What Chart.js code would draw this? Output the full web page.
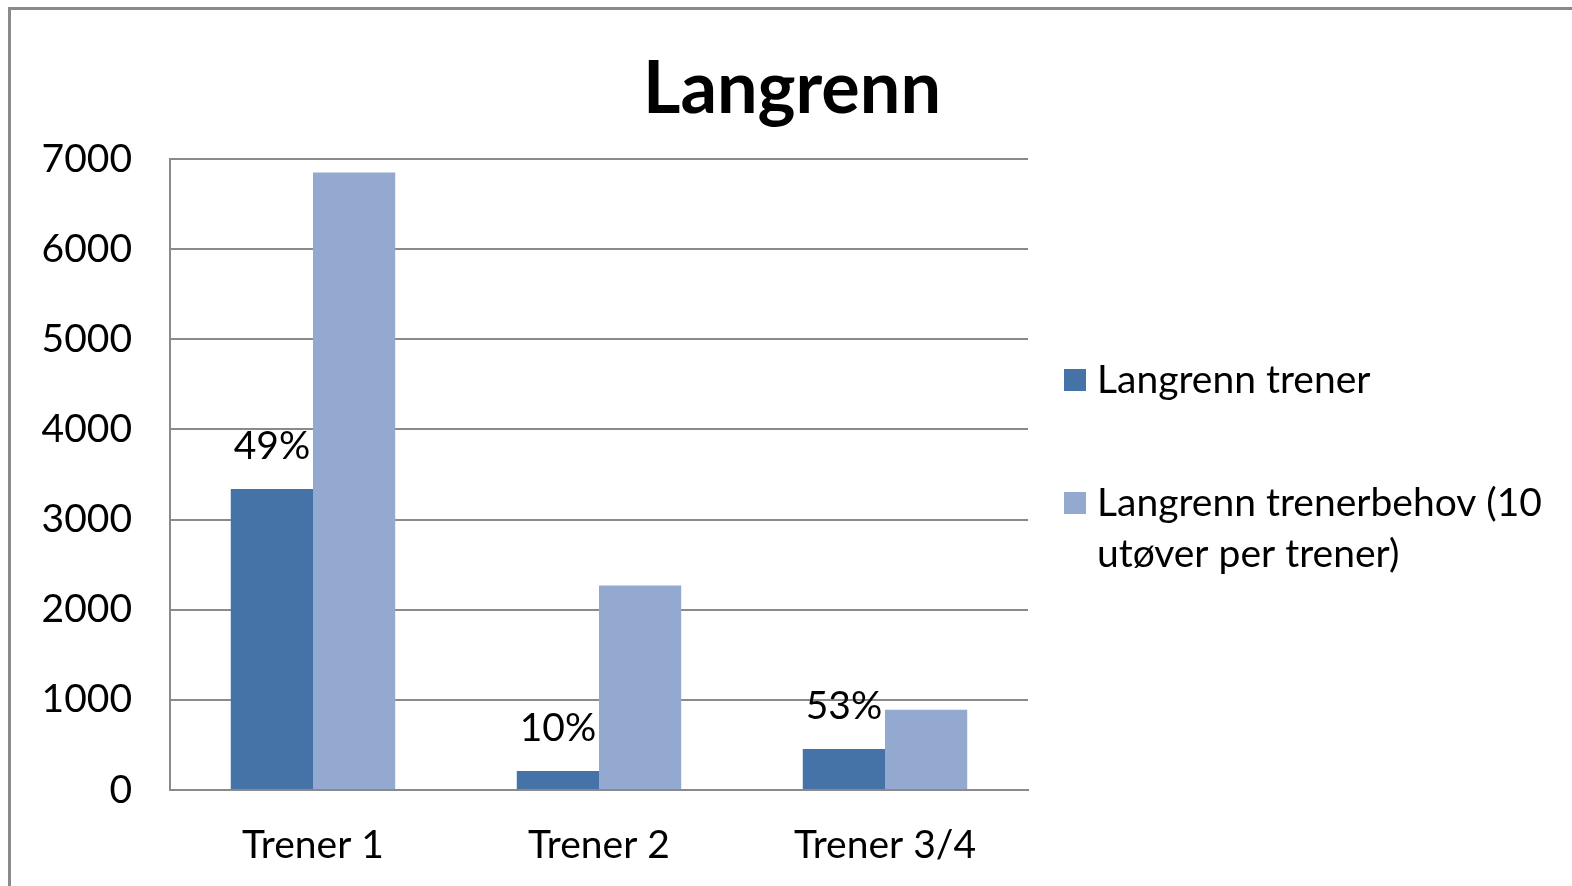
<!DOCTYPE html>
<html>
<head>
<meta charset="utf-8">
<script src="https://cdn.jsdelivr.net/npm/chart.js@4.4.1/dist/chart.umd.min.js"></script>
<style>
  html, body { margin: 0; padding: 0; background: #fff; }
  #wrap { position: relative; width: 1572px; height: 886px; }
  #frame { position: absolute; left: 8px; top: 7px; right: -10px; bottom: -10px;
           border-top: 3px solid #8a8a8a; border-left: 3px solid #8a8a8a; pointer-events: none; }
</style>
</head>
<body>
<div id="wrap">
  <canvas id="chart" width="1572" height="886"></canvas>
  <div id="frame"></div>
</div>
<script>
// data
const categories = ["Trener 1", "Trener 2", "Trener 3/4"];
const trenerValues = [3340, 210, 455];
const behovValues = [6850, 2270, 890];
const percentLabels = ["49%", "10%", "53%"];
const seriesNames = ["Langrenn trener", "Langrenn trenerbehov (10 utøver per trener)"];
const titleText = "Langrenn";

const FONT = "Lato, 'Open Sans', sans-serif";
const textSize = 39;

// title centred on the whole picture, not on the plot
const titlePlugin = {
  id: "bigTitle",
  afterDraw(chart) {
    const ctx = chart.ctx;
    ctx.save();
    ctx.font = `bold 72px ${FONT}`;
    ctx.fillStyle = "#000";
    ctx.textAlign = "center";
    ctx.textBaseline = "middle";
    ctx.fillText(titleText, 792, 90);
    ctx.restore();
  }
};

// percent text above the dark bars
const percentPlugin = {
  id: "percentLabels",
  afterDatasetsDraw(chart) {
    const ctx = chart.ctx;
    const meta = chart.getDatasetMeta(0);
    ctx.save();
    ctx.font = `${textSize}px ${FONT}`;
    ctx.fillStyle = "#000";
    ctx.textAlign = "center";
    ctx.textBaseline = "alphabetic";
    meta.data.forEach((bar, i) => {
      ctx.fillText(percentLabels[i], bar.x, bar.y - 30);
    });
    ctx.restore();
  }
};

// legend on the right, with wrapping text
const sideLegend = {
  id: "sideLegend",
  afterDraw(chart) {
    const ctx = chart.ctx;
    const boxX = 1064, textX = 1097, maxW = 470, lineH = 51;
    const starts = [380, 503];
    ctx.save();
    ctx.font = `${textSize}px ${FONT}`;
    ctx.textBaseline = "middle";
    chart.data.datasets.forEach((ds, i) => {
      let y = starts[i];
      ctx.fillStyle = ds.backgroundColor;
      ctx.fillRect(boxX, y - 11, 22, 22);
      const words = ds.label.split(" ");
      let line = "";
      const lines = [];
      words.forEach(w => {
        const test = line ? line + " " + w : w;
        if (ctx.measureText(test).width > maxW && line) {
          lines.push(line);
          line = w;
        } else {
          line = test;
        }
      });
      lines.push(line);
      ctx.fillStyle = "#000";
      lines.forEach((l, k) => ctx.fillText(l, textX, y + k * lineH));
    });
    ctx.restore();
  }
};

const chart = new Chart(document.getElementById("chart"), {
  type: "bar",
  data: {
    labels: categories,
    datasets: [
      { label: seriesNames[0], data: trenerValues, backgroundColor: "#4572a7" },
      { label: seriesNames[1], data: behovValues, backgroundColor: "#94a9d0" }
    ]
  },
  plugins: [titlePlugin, percentPlugin, sideLegend],
  options: {
    responsive: false,
    animation: false,
    layout: { padding: { left: 0, right: 544, top: 159, bottom: 0 } },
    datasets: {
      bar: { barPercentage: 1, categoryPercentage: 0.575 }
    },
    plugins: {
      legend: { display: false },
      tooltip: { enabled: false },
      title: { display: false }
    },
    scales: {
      x: {
        grid: { display: false, drawTicks: false },
        border: { color: "#8a8a8a", width: 2 },
        ticks: { color: "#000", font: { family: FONT, size: textSize }, padding: 32 },
        afterFit: s => { s.height = 96; }
      },
      y: {
        min: 0,
        max: 7000,
        ticks: {
          stepSize: 1000,
          color: "#000",
          font: { family: FONT, size: textSize },
          padding: 38,
          callback: v => String(v)
        },
        grid: { color: "#8a8a8a", lineWidth: 2, drawTicks: false },
        border: { color: "#8a8a8a", width: 2 },
        afterFit: s => { s.width = 170; }
      }
    }
  }
});
</script>
</body>
</html>
